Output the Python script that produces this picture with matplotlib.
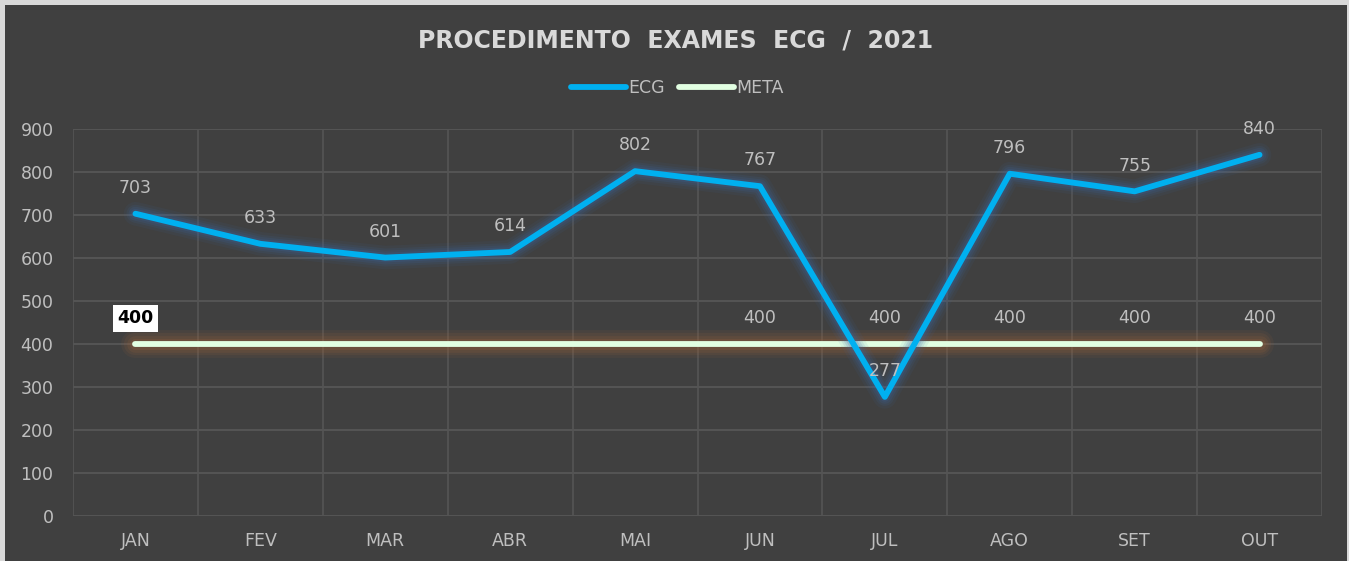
import matplotlib
matplotlib.use("Agg")
import matplotlib.pyplot as plt
from matplotlib.patches import Rectangle

months = ["JAN", "FEV", "MAR", "ABR", "MAI", "JUN", "JUL", "AGO", "SET", "OUT"]
ecg = [703, 633, 601, 614, 802, 767, 277, 796, 755, 840]
meta = [400, 400, 400, 400, 400, 400, 400, 400, 400, 400]
meta_labeled = [0, 5, 6, 7, 8, 9]
yticks = [0, 100, 200, 300, 400, 500, 600, 700, 800, 900]

plt.rcParams['font.family'] = ['DejaVu Sans']

W, H = 1357, 561
fig = plt.figure(figsize=(W / 100, H / 100), dpi=100)
fig.patch.set_facecolor('white')
fig.patches.append(Rectangle((0, 0), 1349 / W, 1, transform=fig.transFigure,
                             facecolor='#d9d9d9', edgecolor='none', zorder=-3))
fig.patches.append(Rectangle((5 / W, 0), (1347 - 5) / W, (561 - 5) / H,
                             transform=fig.transFigure, facecolor='#404040',
                             edgecolor='none', zorder=-2))

ax = fig.add_axes([73 / W, 1 - 516 / H, (1322 - 73) / W, (516 - 129) / H])
ax.set_facecolor('none')
x = list(range(len(months)))
ax.set_xlim(-0.5, len(months) - 0.5)
ax.set_ylim(0, 900)

# grid
for yv in yticks:
    ax.axhline(yv, color='#595959', lw=1.2, zorder=0)
for xv in range(len(months) + 1):
    ax.axvline(xv - 0.5, color='#555555', lw=1.2, zorder=0)

# glow for META
for lw, a in [(20, 0.10), (16, 0.12), (12, 0.15), (8, 0.2)]:
    ax.plot(x, meta, color='#a0643a', lw=lw, alpha=a, solid_capstyle='round', zorder=2)
ax.plot(x, meta, color='#e2ffe2', lw=4.2, solid_capstyle='round', zorder=3, label='META')

# glow for ECG
for lw, a in [(17, 0.08), (13, 0.11), (10, 0.14), (7, 0.18)]:
    ax.plot(x, ecg, color='#3c68a8', lw=lw, alpha=a, solid_capstyle='round',
            solid_joinstyle='round', zorder=4)
ax.plot(x, ecg, color='#00b0f0', lw=4.2, solid_capstyle='round',
        solid_joinstyle='round', zorder=5, label='ECG')

FS = 12.5
# labels
for xi, v in zip(x, ecg):
    ax.annotate(str(v), (xi, v), xytext=(0, 18.5), textcoords='offset points',
                ha='center', va='center', fontsize=FS, color='#bfbfbf', zorder=7)
for i in meta_labeled:
    if i == 0:
        ax.annotate(str(meta[i]), (x[i], meta[i]), xytext=(0, 18.5), textcoords='offset points',
                    ha='center', va='center', fontsize=FS, color='black', fontweight='bold',
                    bbox=dict(boxstyle='square,pad=0.25', fc='white', ec='none'), zorder=7)
    else:
        ax.annotate(str(meta[i]), (x[i], meta[i]), xytext=(0, 18.5), textcoords='offset points',
                    ha='center', va='center', fontsize=FS, color='#bfbfbf', zorder=7)

ax.set_xticks(x)
ax.set_xticklabels(months)
ax.set_yticks(yticks)
ax.tick_params(axis='both', length=0, colors='#bfbfbf', labelsize=FS)
ax.tick_params(axis='x', pad=11.5)
ax.tick_params(axis='y', pad=14)
for s in ax.spines.values():
    s.set_visible(False)

fig.text(676 / W, 1 - 40 / H, 'PROCEDIMENTO  EXAMES  ECG  /  2021', ha='center', va='center',
         fontsize=17, fontweight='bold', color='#d9d9d9')

h, l = ax.get_legend_handles_labels()
leg = fig.legend([h[1], h[0]], [l[1], l[0]], loc='center', bbox_to_anchor=(677 / W, 1 - 88 / H),
                 ncol=2, frameon=False, fontsize=FS, handlelength=3.2, handletextpad=0.1,
                 columnspacing=0.8, labelcolor='#bfbfbf')

fig.savefig('out.png', dpi=100, facecolor=fig.get_facecolor())
